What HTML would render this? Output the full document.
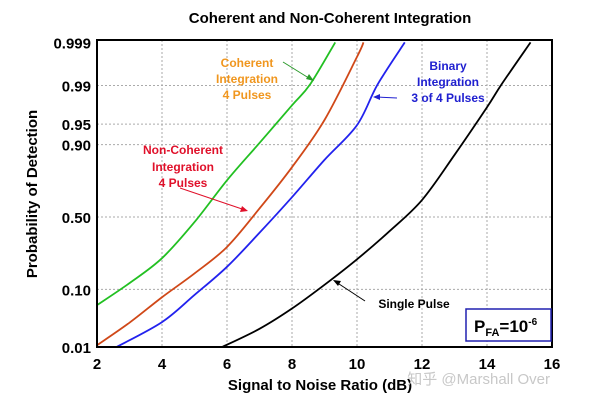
<!DOCTYPE html>
<html><head><meta charset="utf-8"><style>
body{margin:0;background:#fff;}
svg text{font-family:"Liberation Sans",Arial,sans-serif;font-weight:bold;}
</style></head><body>
<svg width="600" height="403" viewBox="0 0 600 403" xmlns="http://www.w3.org/2000/svg">
<g id="grid"></g>
<g id="curves"></g>
<rect x="97" y="40" width="455" height="307" fill="none" stroke="#000" stroke-width="2"/>
<g id="ticks"></g>
<text x="330" y="23" font-size="15" text-anchor="middle">Coherent and Non-Coherent Integration</text>
<text transform="translate(37,194) rotate(-90)" font-size="15" text-anchor="middle">Probability of Detection</text>
<text x="320" y="390" font-size="15" text-anchor="middle">Signal to Noise Ratio (dB)</text>
<text x="550" y="384" font-size="15" fill="#c8c8c8" text-anchor="end" style="font-weight:normal;font-family:'Liberation Sans','Noto Sans CJK SC',sans-serif">知乎 @Marshall Over</text>
<g font-size="12" text-anchor="middle" fill="#f0961e">
<text x="247" y="67">Coherent</text><text x="247" y="83">Integration</text><text x="247" y="99">4 Pulses</text></g>
<line x1="283" y1="62" x2="312" y2="80" stroke="#2a9a2a" stroke-width="1"/>
<polygon points="314,81 306,79 309,74" fill="#2a9a2a"/>
<g font-size="12" text-anchor="middle" fill="#e0102a">
<text x="183" y="154">Non-Coherent</text><text x="183" y="171">Integration</text><text x="183" y="187">4 Pulses</text></g>
<line x1="180" y1="188" x2="245" y2="210" stroke="#e0102a" stroke-width="1"/>
<polygon points="248,211 240,212 242,206" fill="#e0102a"/>
<g font-size="12" text-anchor="middle" fill="#2020d0">
<text x="448" y="70">Binary</text><text x="448" y="86">Integration</text><text x="448" y="102">3 of 4 Pulses</text></g>
<line x1="397" y1="98" x2="376" y2="97" stroke="#2020d0" stroke-width="1"/>
<polygon points="373,97 380,94 380,100" fill="#2020d0"/>
<text x="414" y="308" font-size="12" text-anchor="middle">Single Pulse</text>
<line x1="365" y1="301" x2="336" y2="282" stroke="#000" stroke-width="1"/>
<polygon points="333,280 341,281 338,286" fill="#000"/>
<rect x="466" y="309" width="85" height="32" fill="#fff" stroke="#2020b0" stroke-width="1.5"/>
<text x="474" y="332" font-size="17">P<tspan font-size="11" dy="4">FA</tspan><tspan dy="-4">=10</tspan><tspan font-size="10" dy="-7">-6</tspan></text>
</svg>
<script>
const xTicks=[2,4,6,8,10,12,14,16];
const yTickVals=[0.01,0.10,0.50,0.90,0.95,0.99,0.999];
const yTickLabels=["0.01","0.10","0.50","0.90","0.95","0.99","0.999"];
const coherentX=[2,3,4,5,6,7,8,8.56,9.33];
const coherentP=[0.0594,0.121,0.233,0.464,0.742,0.905,0.976,0.9906,0.999];
const noncohX=[2,3,4,5,6,7,8,9,10,10.2];
const noncohP=[0.0116,0.0307,0.0778,0.159,0.298,0.56,0.811,0.957,0.9977,0.999];
const binaryX=[2.6,4,5,6,7,8,9,10,10.63,11.47];
const binaryP=[0.0107,0.0314,0.0838,0.189,0.39,0.637,0.844,0.948,0.9904,0.999];
const singleX=[5.85,7,8,9,10,11,12,13,14,14.45,15.34];
const singleP=[0.0107,0.0239,0.0526,0.115,0.227,0.401,0.618,0.864,0.974,0.9906,0.999];
const NS="http://www.w3.org/2000/svg";
const X0=97,X1=552,Y0=347,Y1=40;
function probit(p){
 const a=[-39.6968302866538,220.946098424521,-275.928510446969,138.357751867269,-30.6647980661472,2.50662827745924],
 b=[-54.4760987982241,161.585836858041,-155.698979859887,66.8013118877197,-13.2806815528857],
 c=[-0.00778489400243029,-0.322396458041136,-2.40075827716184,-2.54973253934373,4.37466414146497,2.93816398269878],
 d=[0.00778469570904146,0.32246712907004,2.445134137143,3.75440866190742];
 let q,r;
 if(p<0.02425){q=Math.sqrt(-2*Math.log(p));return(((((c[0]*q+c[1])*q+c[2])*q+c[3])*q+c[4])*q+c[5])/((((d[0]*q+d[1])*q+d[2])*q+d[3])*q+1);}
 if(p>1-0.02425){q=Math.sqrt(-2*Math.log(1-p));return-(((((c[0]*q+c[1])*q+c[2])*q+c[3])*q+c[4])*q+c[5])/((((d[0]*q+d[1])*q+d[2])*q+d[3])*q+1);}
 q=p-0.5;r=q*q;return(((((a[0]*r+a[1])*r+a[2])*r+a[3])*r+a[4])*r+a[5])*q/(((((b[0]*r+b[1])*r+b[2])*r+b[3])*r+b[4])*r+1);
}
function xs(v){return X0+(v-2)/14*(X1-X0);}
function ys(p){return 217-56.5*probit(p);}
const grid=document.getElementById('grid'),tk=document.getElementById('ticks'),cv=document.getElementById('curves');
xTicks.forEach((v,i)=>{
 if(i>0&&i<xTicks.length-1){const l=document.createElementNS(NS,'line');
 
 
 l.setAttribute('x1',xs(v));l.setAttribute('x2',xs(v));l.setAttribute('y1',Y1);l.setAttribute('y2',Y0);
 l.setAttribute('stroke','#aaa');l.setAttribute('stroke-dasharray','2,2');grid.appendChild(l);}
 const t=document.createElementNS(NS,'text');
 
 
 t.setAttribute('x',xs(v));t.setAttribute('y',Y0+22);t.setAttribute('font-size','15');t.setAttribute('text-anchor','middle');
 t.textContent=v;tk.appendChild(t);
});
yTickVals.forEach((v,i)=>{
 const y=Math.max(Y1,Math.min(Y0,ys(v)));
 if(i>0&&i<yTickVals.length-1){const l=document.createElementNS(NS,'line');
 
 
 l.setAttribute('x1',X0);l.setAttribute('x2',X1);l.setAttribute('y1',y);l.setAttribute('y2',y);
 l.setAttribute('stroke','#aaa');l.setAttribute('stroke-dasharray','2,2');grid.appendChild(l);}
 const t=document.createElementNS(NS,'text');
 
 
 t.setAttribute('x',X0-6);t.setAttribute('y',y+6);t.setAttribute('font-size','15');t.setAttribute('text-anchor','end');
 t.textContent=yTickLabels[i];tk.appendChild(t);
});
function curve(xa,pa,color,name){
 const pts=xa.map((x,i)=>[xs(x),ys(pa[i])]);
 let d='M'+pts[0][0]+','+pts[0][1];
 for(let i=0;i<pts.length-1;i++){
  const p0=pts[i-1]||pts[i],p1=pts[i],p2=pts[i+1],p3=pts[i+2]||p2;
  const c1=[p1[0]+(p2[0]-p0[0])/6,p1[1]+(p2[1]-p0[1])/6],c2=[p2[0]-(p3[0]-p1[0])/6,p2[1]-(p3[1]-p1[1])/6];
  d+=' C'+c1+' '+c2+' '+p2;
 }
 const p=document.createElementNS(NS,'path');
 
 
 p.setAttribute('d',d);p.setAttribute('fill','none');p.setAttribute('stroke',color);p.setAttribute('stroke-width','1.8');
 cv.appendChild(p);
}
curve(coherentX,coherentP,'#22c022','coherent-curve');
curve(noncohX,noncohP,'#d04818','noncoherent-curve');
curve(binaryX,binaryP,'#2222ee','binary-curve');
curve(singleX,singleP,'#000','single-pulse-curve');
</script>
</body></html>
